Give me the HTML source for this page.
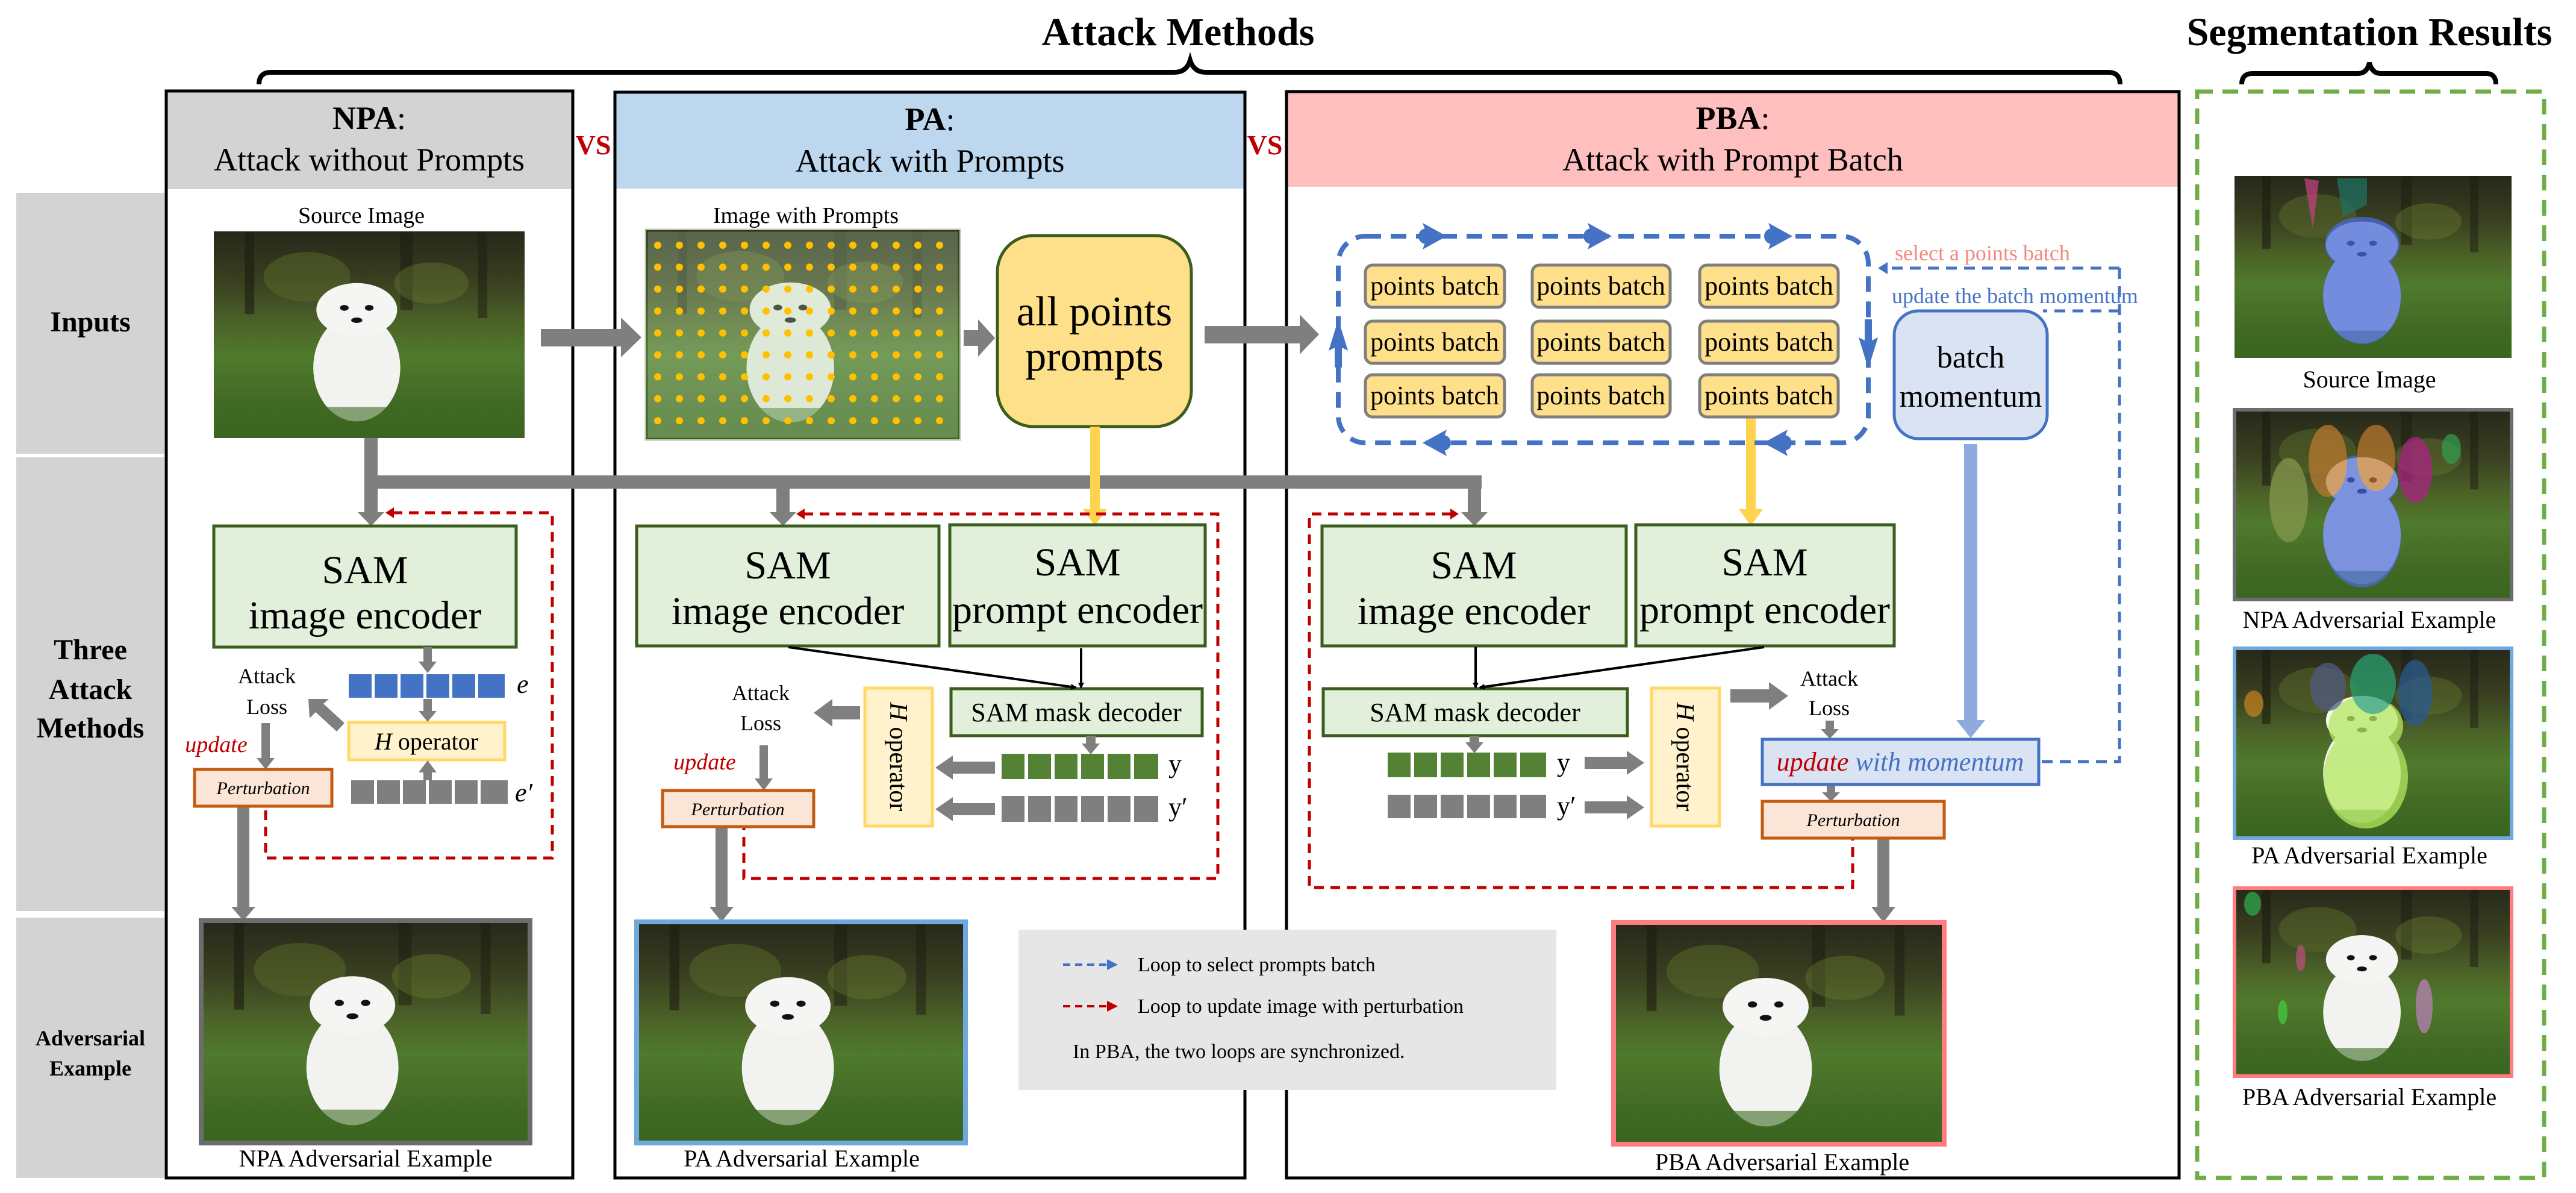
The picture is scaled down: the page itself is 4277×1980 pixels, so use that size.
<!DOCTYPE html>
<html><head><meta charset="utf-8"><style>
html,body{margin:0;padding:0;background:#fff;}
svg{display:block;}
text{font-family:"Liberation Serif","Times New Roman",serif;}
</style></head><body>
<svg width="4277" height="1980" viewBox="0 0 4277 1980" xmlns="http://www.w3.org/2000/svg" font-family="Liberation Serif, serif">
<defs>
<linearGradient id="bg" x1="0" y1="0" x2="0" y2="1">
<stop offset="0" stop-color="#26281a"/><stop offset="0.25" stop-color="#3a4020"/><stop offset="0.45" stop-color="#4c6428"/><stop offset="0.6" stop-color="#4f7a2c"/><stop offset="1" stop-color="#3a5e20"/>
</linearGradient>
<symbol id="dog" viewBox="0 0 100 100" preserveAspectRatio="none">
<rect width="100" height="100" fill="url(#bg)"/>
<rect x="10" y="0" width="3" height="40" fill="#1c1c12" opacity=".6"/>
<rect x="60" y="0" width="4" height="38" fill="#1c1c12" opacity=".5"/>
<rect x="85" y="0" width="3" height="42" fill="#1c1c12" opacity=".5"/>
<ellipse cx="30" cy="22" rx="14" ry="12" fill="#5a6a2a" opacity=".5"/>
<ellipse cx="70" cy="25" rx="12" ry="10" fill="#6a7a30" opacity=".4"/>
<ellipse cx="46" cy="66" rx="14" ry="26" fill="#f2f2f0"/>
<ellipse cx="46" cy="38" rx="13" ry="13" fill="#f5f5f3"/>
<circle cx="42" cy="37" r="1.4" fill="#111"/><circle cx="50" cy="37" r="1.4" fill="#111"/>
<ellipse cx="46" cy="43" rx="1.8" ry="1.3" fill="#111"/>
<rect x="0" y="85" width="100" height="15" fill="#3c6a22" opacity=".6"/>
</symbol>
<marker id="ak" markerWidth="10" markerHeight="10" refX="8" refY="5" orient="auto" markerUnits="userSpaceOnUse"><path d="M0,0 L10,5 L0,10 z" fill="#000"/></marker>
</defs>

<!-- Titles -->
<text x="1956" y="75" font-size="66" font-weight="bold" text-anchor="middle">Attack Methods</text>
<path d="M430,140 Q430,120 450,120 L1950,120 Q1970,120 1976,100 Q1982,120 2002,120 L3500,120 Q3520,120 3520,140" fill="none" stroke="#000" stroke-width="8"/>
<text x="3934" y="75" font-size="66" font-weight="bold" text-anchor="middle">Segmentation Results</text>
<path d="M3722,140 Q3722,122 3740,122 L3915,122 Q3930,122 3934,104 Q3938,122 3953,122 L4128,122 Q4144,122 4144,140" fill="none" stroke="#000" stroke-width="8"/>

<!-- Left gray column -->
<rect x="27" y="320" width="246" height="433" fill="#d3d3d3"/>
<rect x="27" y="759" width="246" height="753" fill="#d3d3d3"/>
<rect x="27" y="1523" width="246" height="432" fill="#d3d3d3"/>
<text x="150" y="550" font-size="48" font-weight="bold" text-anchor="middle">Inputs</text>
<text x="150" y="1094" font-size="48" font-weight="bold" text-anchor="middle">Three</text>
<text x="150" y="1160" font-size="48" font-weight="bold" text-anchor="middle">Attack</text>
<text x="150" y="1224" font-size="48" font-weight="bold" text-anchor="middle">Methods</text>
<text x="150" y="1735" font-size="36" font-weight="bold" text-anchor="middle">Adversarial</text>
<text x="150" y="1785" font-size="36" font-weight="bold" text-anchor="middle">Example</text>

<!-- Panels -->
<rect x="276" y="151" width="675" height="163" fill="#d3d3d3"/>
<rect x="276" y="151" width="675" height="1804" fill="none" stroke="#000" stroke-width="5"/>
<rect x="1021" y="153" width="1046" height="160" fill="#bdd7ee"/>
<rect x="1021" y="153" width="1046" height="1802" fill="none" stroke="#000" stroke-width="5"/>
<rect x="2136" y="152" width="1482" height="158" fill="#ffbfbf"/>
<rect x="2136" y="152" width="1482" height="1803" fill="none" stroke="#000" stroke-width="5"/>
<rect x="3648" y="152" width="576" height="1803" fill="none" stroke="#70ad47" stroke-width="7" stroke-dasharray="26,16"/>

<text x="613" y="214" font-size="54" font-weight="bold" text-anchor="middle">NPA<tspan font-weight="normal">:</tspan></text>
<text x="613" y="283" font-size="54" text-anchor="middle">Attack without Prompts</text>
<text x="1544" y="216" font-size="54" font-weight="bold" text-anchor="middle">PA<tspan font-weight="normal">:</tspan></text>
<text x="1544" y="285" font-size="54" text-anchor="middle">Attack with Prompts</text>
<text x="2877" y="214" font-size="54" font-weight="bold" text-anchor="middle">PBA<tspan font-weight="normal">:</tspan></text>
<text x="2877" y="283" font-size="54" text-anchor="middle">Attack with Prompt Batch</text>
<text x="985" y="256" font-size="46" font-weight="bold" fill="#c00000" text-anchor="middle">VS</text>
<text x="2100" y="256" font-size="46" font-weight="bold" fill="#c00000" text-anchor="middle">VS</text>

<!-- Inputs -->
<text x="600" y="370" font-size="38" text-anchor="middle">Source Image</text>
<use href="#dog" x="355" y="384" width="516" height="343"/>
<text x="1338" y="370" font-size="38" text-anchor="middle">Image with Prompts</text>
<use href="#dog" x="1073" y="382" width="520" height="347"/>
<rect x="1073" y="382" width="520" height="347" fill="#b8d8a8" opacity=".35" stroke="#3b5e1f" stroke-width="5"/>
<g fill="#ffc000">
<g id="row">
<circle cx="1092" cy="407" r="6"/><circle cx="1128" cy="407" r="6"/><circle cx="1164" cy="407" r="6"/><circle cx="1200" cy="407" r="6"/><circle cx="1236" cy="407" r="6"/><circle cx="1272" cy="407" r="6"/><circle cx="1308" cy="407" r="6"/><circle cx="1344" cy="407" r="6"/><circle cx="1380" cy="407" r="6"/><circle cx="1416" cy="407" r="6"/><circle cx="1452" cy="407" r="6"/><circle cx="1488" cy="407" r="6"/><circle cx="1524" cy="407" r="6"/><circle cx="1560" cy="407" r="6"/>
</g>
<use href="#row" y="36.4"/><use href="#row" y="72.8"/><use href="#row" y="109.2"/><use href="#row" y="145.6"/><use href="#row" y="182"/><use href="#row" y="218.4"/><use href="#row" y="254.8"/><use href="#row" y="291.2"/>
</g>
<rect x="1656" y="391" width="322" height="317" rx="60" fill="#ffe08a" stroke="#3b5e1f" stroke-width="5"/>
<text x="1817" y="540" font-size="70" text-anchor="middle">all points</text>
<text x="1817" y="615" font-size="70" text-anchor="middle">prompts</text>

<!-- gray arrows inputs -->
<g fill="#7f7f7f">
<rect x="898" y="546" width="135" height="29"/><path d="M1031,527 L1065,560 L1031,593 z"/>
<rect x="1600" y="548" width="26" height="26"/><path d="M1624,530 L1652,561 L1624,592 z"/>
<rect x="2000" y="541" width="160" height="29"/><path d="M2158,522 L2190,555 L2158,588 z"/>
<rect x="605" y="727" width="22" height="125"/><path d="M594,850 L616,873 L638,850 z"/>
<rect x="605" y="789" width="1855" height="22"/>
<rect x="1289" y="789" width="22" height="63"/><path d="M1278,850 L1300,873 L1322,850 z"/>
<rect x="2437" y="789" width="22" height="63"/><path d="M2426,850 L2448,873 L2470,850 z"/>
</g>
<g fill="#ffd34e">
<rect x="1810" y="708" width="16" height="140"/><path d="M1798,845 L1818,873 L1838,845 z"/>
<rect x="2899" y="693" width="16" height="155"/><path d="M2887,845 L2907,873 L2927,845 z"/>
</g>

<!-- PBA batch loop -->
<rect x="2222" y="392" width="880" height="343" rx="45" fill="none" stroke="#4472c4" stroke-width="8" stroke-dasharray="26,16"/>
<g fill="#4472c4">
<path d="M2362,370 L2402,392 L2362,414 L2370,392 z"/><circle cx="2368" cy="392" r="13"/>
<path d="M2636,370 L2676,392 L2636,414 L2644,392 z"/><circle cx="2642" cy="392" r="13"/>
<path d="M2936,370 L2976,392 L2936,414 L2944,392 z"/><circle cx="2942" cy="392" r="13"/>
<path d="M2402,713 L2362,735 L2402,757 L2394,735 z"/><circle cx="2396" cy="735" r="13"/>
<path d="M2968,713 L2928,735 L2968,757 L2960,735 z"/><circle cx="2962" cy="735" r="13"/>
<path d="M2206,582 L2222,530 L2238,582 L2222,574 z"/><rect x="2216" y="570" width="12" height="40"/>
<path d="M3086,560 L3102,612 L3118,560 L3102,568 z"/><rect x="3096" y="530" width="12" height="40"/>
</g>
<g font-size="44" text-anchor="middle">
<rect x="2267" y="440" width="231" height="70" rx="12" fill="#ffe08a" stroke="#7f7f7f" stroke-width="5"/><text x="2382" y="489">points batch</text>
<rect x="2544" y="440" width="229" height="70" rx="12" fill="#ffe08a" stroke="#7f7f7f" stroke-width="5"/><text x="2658" y="489">points batch</text>
<rect x="2822" y="440" width="230" height="70" rx="12" fill="#ffe08a" stroke="#7f7f7f" stroke-width="5"/><text x="2937" y="489">points batch</text>
<rect x="2267" y="533" width="231" height="70" rx="12" fill="#ffe08a" stroke="#7f7f7f" stroke-width="5"/><text x="2382" y="582">points batch</text>
<rect x="2544" y="533" width="229" height="70" rx="12" fill="#ffe08a" stroke="#7f7f7f" stroke-width="5"/><text x="2658" y="582">points batch</text>
<rect x="2822" y="533" width="230" height="70" rx="12" fill="#ffe08a" stroke="#7f7f7f" stroke-width="5"/><text x="2937" y="582">points batch</text>
<rect x="2267" y="622" width="231" height="70" rx="12" fill="#ffe08a" stroke="#7f7f7f" stroke-width="5"/><text x="2382" y="671">points batch</text>
<rect x="2544" y="622" width="229" height="70" rx="12" fill="#ffe08a" stroke="#7f7f7f" stroke-width="5"/><text x="2658" y="671">points batch</text>
<rect x="2822" y="622" width="230" height="70" rx="12" fill="#ffe08a" stroke="#7f7f7f" stroke-width="5"/><text x="2937" y="671">points batch</text>
</g>
<text x="3146" y="432" font-size="36" fill="#f4877f">select a points batch</text>
<text x="3141" y="503" font-size="36" fill="#4472c4">update the batch momentum</text>
<g stroke="#4472c4" stroke-width="5" stroke-dasharray="18,12" fill="none">
<path d="M3519,445 L3130,445"/>
<path d="M3519,445 L3519,1264 L3390,1264"/>
<path d="M3519,516 L3392,516"/>
</g>
<path d="M3134,435 L3118,445 L3134,455 z" fill="#4472c4"/>
<rect x="3145" y="516" width="254" height="212" rx="40" fill="#dae3f3" stroke="#4472c4" stroke-width="5"/>
<text x="3272" y="610" font-size="52" text-anchor="middle">batch</text>
<text x="3272" y="675" font-size="52" text-anchor="middle">momentum</text>
<rect x="3261" y="737" width="22" height="460" fill="#8faadc"/>
<path d="M3248,1195 L3272,1225 L3296,1195 z" fill="#8faadc"/>

<!-- Red dashed loops -->
<g stroke="#c00000" stroke-width="5" stroke-dasharray="16,11" fill="none">
<path d="M652,851 L917,851 L917,1424 L441,1424 L441,1340"/>
<path d="M1334,853 L2022,853 L2022,1458 L1235,1458 L1235,1374"/>
<path d="M2410,853 L2174,853 L2174,1473 L3076,1473 L3076,1393"/>
</g>
<g fill="#c00000">
<path d="M654,842 L640,851 L654,860 z"/>
<path d="M1336,844 L1322,853 L1336,862 z"/>
<path d="M2408,844 L2422,853 L2408,862 z"/>
</g>

<!-- SAM boxes -->
<g fill="#e2efda" stroke="#3b5e1f" stroke-width="5">
<rect x="355" y="873" width="502" height="201"/>
<rect x="1057" y="873" width="502" height="199"/>
<rect x="1577" y="871" width="424" height="201"/>
<rect x="2195" y="873" width="505" height="199"/>
<rect x="2716" y="871" width="429" height="201"/>
<rect x="1579" y="1143" width="417" height="78"/>
<rect x="2197" y="1143" width="505" height="78"/>
</g>
<g font-size="66" text-anchor="middle">
<text x="606" y="968">SAM</text><text x="606" y="1043">image encoder</text>
<text x="1308" y="960">SAM</text><text x="1308" y="1036">image encoder</text>
<text x="1789" y="955">SAM</text><text x="1789" y="1034">prompt encoder</text>
<text x="2447" y="960">SAM</text><text x="2447" y="1036">image encoder</text>
<text x="2930" y="955">SAM</text><text x="2930" y="1034">prompt encoder</text>
</g>
<text x="1787" y="1197" font-size="44" text-anchor="middle">SAM mask decoder</text>
<text x="2449" y="1197" font-size="44" text-anchor="middle">SAM mask decoder</text>
<g stroke="#000" stroke-width="4" marker-end="url(#ak)">
<line x1="1309" y1="1074" x2="1786" y2="1141"/>
<line x1="1795" y1="1076" x2="1795" y2="1141"/>
<line x1="2450" y1="1074" x2="2450" y2="1141"/>
<line x1="2929" y1="1074" x2="2457" y2="1141"/>
</g>

<!-- NPA inner -->
<g fill="#4472c4"><rect x="579" y="1119" width="38" height="39"/><rect x="622" y="1119" width="38" height="39"/><rect x="665" y="1119" width="38" height="39"/><rect x="708" y="1119" width="38" height="39"/><rect x="751" y="1119" width="38" height="39"/><rect x="794" y="1119" width="44" height="39"/></g>
<g fill="#7f7f7f"><rect x="583" y="1295" width="38" height="39"/><rect x="626" y="1295" width="38" height="39"/><rect x="669" y="1295" width="38" height="39"/><rect x="712" y="1295" width="38" height="39"/><rect x="755" y="1295" width="38" height="39"/><rect x="798" y="1295" width="45" height="39"/></g>
<text x="858" y="1150" font-size="44" font-style="italic">e</text>
<text x="855" y="1330" font-size="44" font-style="italic">e′</text>
<rect x="579" y="1199" width="259" height="62" fill="#fff2cc" stroke="#ffd966" stroke-width="5"/>
<text x="708" y="1244" font-size="40" text-anchor="middle"><tspan font-style="italic">H</tspan> operator</text>
<g fill="#7f7f7f">
<rect x="703" y="1074" width="14" height="26"/><path d="M695,1098 L710,1117 L725,1098 z"/>
<rect x="703" y="1160" width="14" height="22"/><path d="M695,1180 L710,1198 L725,1180 z"/>
<rect x="703" y="1280" width="14" height="15"/><path d="M695,1282 L710,1262 L725,1282 z"/>
<path d="M572,1200 L537,1168 L546,1160 L512,1160 L514,1192 L524,1182 L559,1214 z"/>
<rect x="434" y="1200" width="14" height="60"/><path d="M426,1258 L441,1277 L456,1258 z"/>
<rect x="394" y="1338" width="20" height="170"/><path d="M384,1505 L404,1528 L424,1505 z"/>
</g>
<text x="443" y="1134" font-size="36" text-anchor="middle">Attack</text>
<text x="443" y="1185" font-size="36" text-anchor="middle">Loss</text>
<text x="359" y="1248" font-size="38" font-style="italic" fill="#c00000" text-anchor="middle">update</text>
<rect x="323" y="1277" width="228" height="61" fill="#fbe5d6" stroke="#c55a11" stroke-width="5"/>
<text x="437" y="1318" font-size="30" font-style="italic" text-anchor="middle">Perturbation</text>
<use href="#dog" x="334" y="1528" width="546" height="369"/>
<rect x="334" y="1528" width="546" height="369" fill="none" stroke="#6d6d6d" stroke-width="8"/>
<text x="607" y="1936" font-size="40" text-anchor="middle">NPA  Adversarial Example</text>

<!-- PA inner -->
<g fill="#548235"><rect x="1663" y="1251" width="38" height="42"/><rect x="1707" y="1251" width="38" height="42"/><rect x="1751" y="1251" width="38" height="42"/><rect x="1795" y="1251" width="38" height="42"/><rect x="1839" y="1251" width="38" height="42"/><rect x="1883" y="1251" width="40" height="42"/></g>
<g fill="#7f7f7f"><rect x="1663" y="1321" width="38" height="43"/><rect x="1707" y="1321" width="38" height="43"/><rect x="1751" y="1321" width="38" height="43"/><rect x="1795" y="1321" width="38" height="43"/><rect x="1839" y="1321" width="38" height="43"/><rect x="1883" y="1321" width="40" height="43"/></g>
<text x="1940" y="1282" font-size="44">y</text>
<text x="1940" y="1354" font-size="44">y′</text>
<rect x="1436" y="1142" width="112" height="229" fill="#fff2cc" stroke="#ffd966" stroke-width="5"/>
<text transform="translate(1478,1256) rotate(90)" font-size="42" text-anchor="middle"><tspan font-style="italic">H</tspan> operator</text>
<g fill="#7f7f7f">
<rect x="1803" y="1221" width="16" height="16"/><path d="M1796,1234 L1811,1252 L1826,1234 z"/>
<rect x="1580" y="1264" width="72" height="20"/><path d="M1582,1254 L1553,1274 L1582,1294 z"/>
<rect x="1580" y="1333" width="72" height="20"/><path d="M1582,1323 L1553,1343 L1582,1363 z"/>
<rect x="1380" y="1172" width="48" height="22"/><path d="M1382,1160 L1351,1183 L1382,1206 z"/>
<rect x="1261" y="1237" width="14" height="56"/><path d="M1253,1292 L1268,1312 L1283,1292 z"/>
<rect x="1188" y="1372" width="20" height="136"/><path d="M1178,1505 L1198,1530 L1218,1505 z"/>
</g>
<text x="1263" y="1162" font-size="36" text-anchor="middle">Attack</text>
<text x="1263" y="1212" font-size="36" text-anchor="middle">Loss</text>
<text x="1170" y="1277" font-size="38" font-style="italic" fill="#c00000" text-anchor="middle">update</text>
<rect x="1100" y="1312" width="251" height="60" fill="#fbe5d6" stroke="#c55a11" stroke-width="5"/>
<text x="1225" y="1353" font-size="30" font-style="italic" text-anchor="middle">Perturbation</text>
<use href="#dog" x="1057" y="1530" width="546" height="367"/>
<rect x="1057" y="1530" width="546" height="367" fill="none" stroke="#6fa8dc" stroke-width="8"/>
<text x="1331" y="1936" font-size="40" text-anchor="middle">PA  Adversarial Example</text>

<!-- Legend -->
<rect x="1691" y="1543" width="893" height="266" fill="#e7e6e6"/>
<line x1="1765" y1="1601" x2="1840" y2="1601" stroke="#4472c4" stroke-width="4" stroke-dasharray="12,8"/>
<path d="M1838,1592 L1856,1601 L1838,1610 z" fill="#4472c4"/>
<text x="1889" y="1612" font-size="34">Loop to select prompts batch</text>
<line x1="1765" y1="1670" x2="1840" y2="1670" stroke="#c00000" stroke-width="4" stroke-dasharray="12,8"/>
<path d="M1838,1661 L1856,1670 L1838,1679 z" fill="#c00000"/>
<text x="1889" y="1681" font-size="34">Loop to update image with perturbation</text>
<text x="1781" y="1756" font-size="34">In PBA, the two loops are synchronized.</text>

<!-- PBA inner -->
<g fill="#548235"><rect x="2304" y="1249" width="38" height="41"/><rect x="2348" y="1249" width="38" height="41"/><rect x="2392" y="1249" width="38" height="41"/><rect x="2436" y="1249" width="38" height="41"/><rect x="2480" y="1249" width="38" height="41"/><rect x="2524" y="1249" width="43" height="41"/></g>
<g fill="#7f7f7f"><rect x="2304" y="1319" width="38" height="39"/><rect x="2348" y="1319" width="38" height="39"/><rect x="2392" y="1319" width="38" height="39"/><rect x="2436" y="1319" width="38" height="39"/><rect x="2480" y="1319" width="38" height="39"/><rect x="2524" y="1319" width="43" height="39"/></g>
<text x="2585" y="1280" font-size="44">y</text>
<text x="2585" y="1352" font-size="44">y′</text>
<rect x="2742" y="1142" width="113" height="229" fill="#fff2cc" stroke="#ffd966" stroke-width="5"/>
<text transform="translate(2784,1256) rotate(90)" font-size="42" text-anchor="middle"><tspan font-style="italic">H</tspan> operator</text>
<g fill="#7f7f7f">
<rect x="2440" y="1221" width="16" height="14"/><path d="M2433,1232 L2448,1250 L2463,1232 z"/>
<rect x="2631" y="1256" width="72" height="20"/><path d="M2701,1246 L2730,1266 L2701,1286 z"/>
<rect x="2631" y="1330" width="72" height="20"/><path d="M2701,1320 L2730,1340 L2701,1360 z"/>
<rect x="2873" y="1144" width="66" height="22"/><path d="M2937,1132 L2969,1155 L2937,1178 z"/>
<rect x="3031" y="1196" width="14" height="16"/><path d="M3023,1210 L3038,1226 L3053,1210 z"/>
<rect x="3033" y="1302" width="14" height="16"/><path d="M3025,1315 L3040,1330 L3055,1315 z"/>
<rect x="3117" y="1391" width="20" height="117"/><path d="M3107,1505 L3127,1531 L3147,1505 z"/>
</g>
<text x="3037" y="1138" font-size="36" text-anchor="middle">Attack</text>
<text x="3037" y="1187" font-size="36" text-anchor="middle">Loss</text>
<rect x="2926" y="1227" width="459" height="75" fill="#dae3f3" stroke="#4472c4" stroke-width="5"/>
<text x="3155" y="1279" font-size="44" font-style="italic" text-anchor="middle"><tspan fill="#c00000">update</tspan><tspan fill="#4472c4"> with momentum</tspan></text>
<rect x="2926" y="1330" width="302" height="61" fill="#fbe5d6" stroke="#c55a11" stroke-width="5"/>
<text x="3077" y="1371" font-size="30" font-style="italic" text-anchor="middle">Perturbation</text>
<use href="#dog" x="2679" y="1531" width="549" height="368"/>
<rect x="2679" y="1531" width="549" height="368" fill="none" stroke="#ff7c80" stroke-width="8"/>
<text x="2959" y="1942" font-size="40" text-anchor="middle">PBA  Adversarial Example</text>

<!-- Segmentation results -->
<use href="#dog" x="3710" y="292" width="460" height="302"/>
<g opacity=".75">
<ellipse cx="3922" cy="491" rx="65" ry="80" fill="#4a6ad8"/><ellipse cx="3922" cy="405" rx="62" ry="45" fill="#4a6ad8"/>
<path d="M3826,296 L3840,380 L3850,300 z" fill="#c04080"/><path d="M3880,296 L3890,360 L3930,340 L3930,296 z" fill="#207060"/>
</g>
<text x="3934" y="643" font-size="40" text-anchor="middle">Source Image</text>

<use href="#dog" x="3710" y="680" width="460" height="315"/>
<g opacity=".7">
<ellipse cx="3922" cy="890" rx="65" ry="85" fill="#4a6ad8"/><ellipse cx="3922" cy="800" rx="60" ry="45" fill="#4a6ad8"/>
<ellipse cx="3865" cy="765" rx="32" ry="60" fill="#c07a30"/><ellipse cx="3945" cy="760" rx="32" ry="55" fill="#c07a30"/>
<ellipse cx="4010" cy="780" rx="28" ry="55" fill="#b0208a"/><ellipse cx="3800" cy="830" rx="32" ry="70" fill="#8a9a50"/>
<ellipse cx="4070" cy="745" rx="16" ry="25" fill="#30a050"/>
</g>
<rect x="3710" y="680" width="460" height="315" fill="none" stroke="#6d6d6d" stroke-width="6"/>
<text x="3934" y="1042" font-size="40" text-anchor="middle">NPA  Adversarial Example</text>

<use href="#dog" x="3710" y="1076" width="460" height="315"/>
<g opacity=".75">
<ellipse cx="3928" cy="1290" rx="70" ry="85" fill="#b4e860"/><ellipse cx="3928" cy="1205" rx="62" ry="50" fill="#b4e860"/>
<ellipse cx="3940" cy="1135" rx="38" ry="50" fill="#2aa070"/><ellipse cx="3865" cy="1140" rx="30" ry="40" fill="#505a80"/>
<ellipse cx="4010" cy="1150" rx="28" ry="55" fill="#2a5a90"/><ellipse cx="3742" cy="1168" rx="16" ry="22" fill="#c08020"/>
</g>
<rect x="3710" y="1076" width="460" height="315" fill="none" stroke="#6fa8dc" stroke-width="6"/>
<text x="3934" y="1433" font-size="40" text-anchor="middle">PA  Adversarial Example</text>

<use href="#dog" x="3710" y="1474" width="460" height="312"/>
<g opacity=".7">
<ellipse cx="4025" cy="1670" rx="14" ry="45" fill="#c080c0"/><ellipse cx="3740" cy="1500" rx="14" ry="20" fill="#30b050"/>
<ellipse cx="3790" cy="1680" rx="8" ry="20" fill="#40d040"/><ellipse cx="3820" cy="1590" rx="8" ry="22" fill="#c05080"/>
</g>
<rect x="3710" y="1474" width="460" height="312" fill="none" stroke="#ff7c80" stroke-width="6"/>
<text x="3934" y="1834" font-size="40" text-anchor="middle">PBA  Adversarial Example</text>
</svg>
</body></html>
